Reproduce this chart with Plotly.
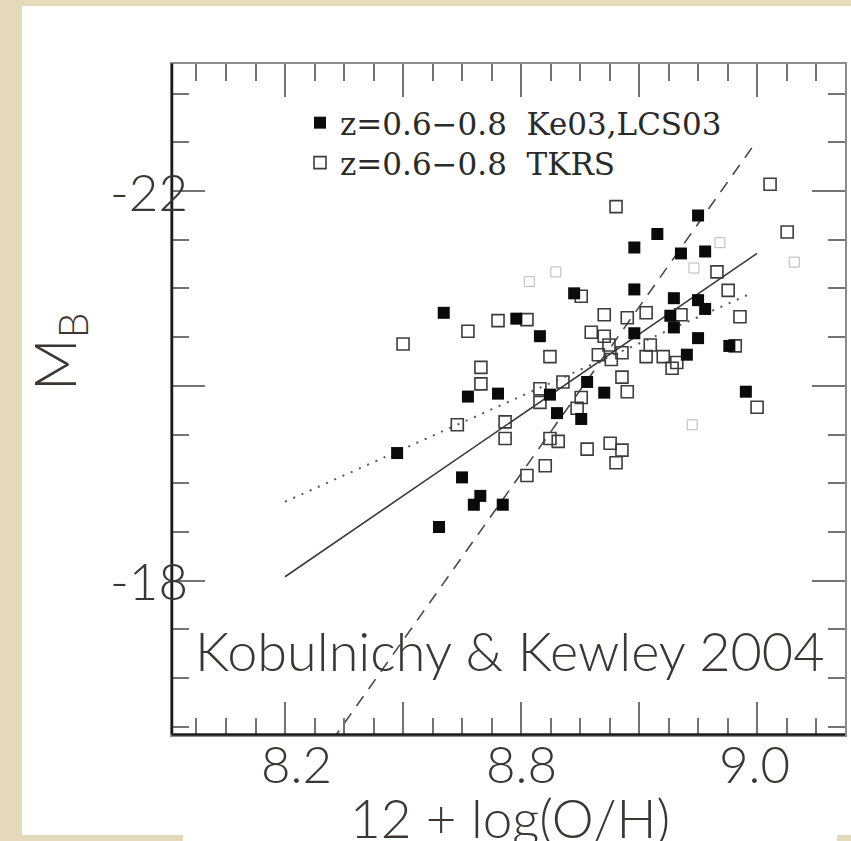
import plotly.graph_objects as go

# ---------------------------------------------------------------------------
# Data: M_B versus 12 + log(O/H) for z = 0.6 - 0.8 galaxies
# ---------------------------------------------------------------------------
# Ke03 / LCS03 sample (filled squares)
ke_oh = [8.900, 8.831, 8.792, 8.871, 8.912, 8.792, 8.690, 8.859, 8.900, 8.912,
         8.469, 8.592, 8.632, 8.853, 8.859, 8.792, 8.900, 8.953, 8.881, 8.981,
         8.712, 8.649, 8.510, 8.561, 8.741, 8.661, 8.702, 8.390, 8.500, 8.531,
         8.520, 8.569, 8.461]
ke_mb = [-21.75, -21.56, -21.42, -21.36, -21.38, -20.99, -20.95, -20.90, -20.88, -20.79,
         -20.75, -20.69, -20.51, -20.72, -20.60, -20.54, -20.49, -20.41, -20.32, -19.94,
         -20.04, -19.91, -19.89, -19.92, -19.93, -19.72, -19.66, -19.31, -19.06, -18.87,
         -18.78, -18.78, -18.55]

# TKRS sample (open squares)
tk_oh = [9.051, 8.932, 8.951, 8.971, 8.963, 8.871, 8.812, 8.780, 8.741, 8.719,
         8.741, 8.749, 8.731, 8.753, 8.771, 8.819, 8.812, 8.841, 8.864, 8.856,
         8.702, 8.610, 8.561, 8.510, 8.400, 8.649, 8.532, 8.532, 8.632, 8.671,
         8.771, 8.780, 8.702, 8.632, 8.695, 9.000, 8.492, 8.573, 8.573, 8.649,
         8.663, 8.712, 8.751, 8.771, 8.761, 8.641, 8.610, 8.761, 9.022]
tk_mb = [-21.58, -21.17, -20.98, -20.71, -20.41, -20.73, -20.75, -20.70, -20.73, -20.55,
         -20.51, -20.42, -20.32, -20.27, -20.34, -20.42, -20.30, -20.30, -20.24, -20.18,
         -20.92, -20.68, -20.67, -20.56, -20.43, -20.30, -20.19, -20.02, -19.97, -20.04,
         -20.09, -19.94, -19.88, -19.83, -19.77, -19.78, -19.60, -19.63, -19.46, -19.46,
         -19.43, -19.35, -19.41, -19.34, -19.21, -19.18, -19.08, -21.84, -22.07]

# faint (dotted) objects
faint_oh = [8.614, 8.659, 8.937, 8.893, 9.063, 8.890]
faint_mb = [-21.07, -21.17, -21.47, -21.21, -21.27, -19.60]

# fitted relations: solid, dotted, dashed
fit_solid_oh = [8.20, 9.00]
fit_solid_mb = [-18.04, -21.36]
fit_dot_oh = [8.20, 8.99]
fit_dot_mb = [-18.81, -20.95]
fit_dash_oh = [8.28, 9.00]
fit_dash_mb = [-16.36, -22.52]

# overlay labels
y_label_vals = [-22, -18]
y_label_text = ["-22", "-18"]
x_label_vals = [8.2, 8.6, 9.0]
x_label_text = ["8.2", "8.8", "9.0"]
x_label_shift = [11, 0, -3]

legend_ke = "z=0.6\u22120.8  Ke03,LCS03"
legend_tk = "z=0.6\u22120.8  TKRS"
credit = "Kobulnichy &amp; Kewley 2004"

# ---------------------------------------------------------------------------
W, H = 851, 841
X_RANGE = [8.0085, 9.149]
Y_RANGE = [-16.42, -23.31]
x_dom = [172 / W, 845 / W]
y_dom = [1 - 734.5 / H, 1 - 63.5 / H]

ink = "#1c1c1c"
frame_light = "#8c8c8c"
tick_col = "#737373"
slide_txt = "#3b3631"
paper_col = "#e4dab9"
overlay_font = dict(family="Lato, 'Open Sans', sans-serif", size=51, color=slide_txt, weight=300)
serif = dict(family="'DejaVu Serif', 'Liberation Serif', serif", size=31, color="#2a2a2a")

fig = go.Figure()

fig.add_trace(go.Scatter(x=fit_dot_oh, y=fit_dot_mb, mode="lines", showlegend=False,
                         line=dict(color="#555555", width=2, dash="2px,7px")))
fig.add_trace(go.Scatter(x=fit_solid_oh, y=fit_solid_mb, mode="lines", showlegend=False,
                         line=dict(color="#3a3a3a", width=1.6)))
fig.add_trace(go.Scatter(x=fit_dash_oh, y=fit_dash_mb, mode="lines", showlegend=False,
                         line=dict(color="#4a4a4a", width=1.6, dash="12px,9px")))

fig.add_trace(go.Scatter(x=faint_oh, y=faint_mb, mode="markers", showlegend=False,
                         marker=dict(symbol="square-open", size=10, color="#b8b8b8",
                                     line=dict(width=1))))

fig.add_trace(go.Scatter(x=tk_oh, y=tk_mb, mode="markers", name=legend_tk, legend="legend2",
                         marker=dict(symbol="square-open", size=12, color="#3c3c3c",
                                     line=dict(width=1.6))))
fig.add_trace(go.Scatter(x=ke_oh, y=ke_mb, mode="markers", name=legend_ke, legend="legend",
                         marker=dict(symbol="square", size=12, color="#0a0a0a",
                                     line=dict(width=0))))

axis_common = dict(showgrid=False, zeroline=False, showline=True, linecolor=frame_light,
                   linewidth=2, mirror="ticks", ticks="inside", tickcolor=tick_col,
                   tickwidth=2, ticklen=33, showticklabels=False)

fig.update_xaxes(range=X_RANGE, domain=x_dom, tick0=8.2, dtick=0.2,
                 minor=dict(tick0=8.2, dtick=0.05, ticks="inside", ticklen=17,
                            tickwidth=2, tickcolor=tick_col),
                 **axis_common)
fig.update_yaxes(range=Y_RANGE, domain=y_dom, tick0=-22, dtick=2,
                 minor=dict(tick0=-22, dtick=0.5, ticks="inside", ticklen=17,
                            tickwidth=2, tickcolor=tick_col),
                 **axis_common)

shapes = [
    # white slide panel behind the figure
    dict(type="rect", xref="paper", yref="paper", x0=22 / W, x1=1.0,
         y0=1 - 835 / H, y1=1 - 6 / H, fillcolor="white", line_width=0, layer="below"),
    dict(type="rect", xref="paper", yref="paper", x0=183 / W, x1=837 / W,
         y0=0, y1=1 - 834 / H, fillcolor="white", line_width=0, layer="below"),
    # darker left and bottom edges of the frame
    dict(type="line", xref="x domain", yref="y domain", x0=0, x1=0, y0=0, y1=1,
         line=dict(color=ink, width=2.5)),
    dict(type="line", xref="x domain", yref="y domain", x0=0, x1=1, y0=0, y1=0,
         line=dict(color=ink, width=2.5)),
]

annotations = []
for v, t in zip(y_label_vals, y_label_text):
    annotations.append(dict(x=190 / W, xref="paper", y=v, yref="y", text=t,
                            xanchor="right", yanchor="middle", showarrow=False,
                            font=overlay_font))
for v, t, s in zip(x_label_vals, x_label_text, x_label_shift):
    annotations.append(dict(x=v, xref="x", y=1 - 763 / H, yref="paper", text=t,
                            xanchor="center", yanchor="middle", xshift=s,
                            showarrow=False, font=overlay_font))
annotations.append(dict(x=510 / W, xref="paper", y=1 - 817 / H, yref="paper",
                        text="12 + log(O/H)", xanchor="center", yanchor="middle",
                        showarrow=False, font=dict(overlay_font, size=53)))
annotations.append(dict(x=58 / W, xref="paper", y=1 - 352 / H, yref="paper",
                        text="M<sub>B</sub>", textangle=-90, xanchor="center",
                        yanchor="middle", showarrow=False,
                        font=dict(overlay_font, size=58)))
annotations.append(dict(x=509 / W, xref="paper", y=1 - 650 / H, yref="paper",
                        text=credit, xanchor="center", yanchor="middle",
                        showarrow=False, font=dict(overlay_font, size=54)))

legend_common = dict(bgcolor="rgba(0,0,0,0)", borderwidth=0, font=serif,
                     xanchor="left", yanchor="middle", itemclick=False)

fig.update_layout(
    width=W, height=H, margin=dict(l=0, r=0, t=0, b=0),
    paper_bgcolor=paper_col, plot_bgcolor="white",
    shapes=shapes, annotations=annotations,
    legend=dict(legend_common, x=300 / W, y=1 - 123 / H),
    legend2=dict(legend_common, x=300 / W, y=1 - 163 / H),
)

fig.write_html("out.html")
